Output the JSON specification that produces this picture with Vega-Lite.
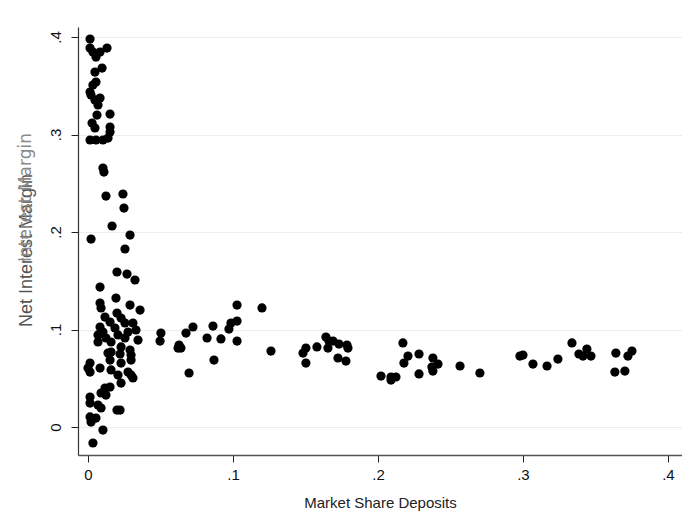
{
  "$schema": "https://vega.github.io/schema/vega-lite/v6.json",
  "autosize": "none",
  "width": 604,
  "height": 428,
  "padding": {"left": 78, "top": 27, "right": 0, "bottom": 60},
  "background": "white",
  "config": {"view": {"stroke": null}},
  "data": {"values": [
    {"share": 0.0014, "nim": 0.3979}, {"share": 0.0014, "nim": 0.3887}, {"share": 0.0034, "nim": 0.3846}, {"share": 0.0055, "nim": 0.3795},
    {"share": 0.0083, "nim": 0.3846}, {"share": 0.0131, "nim": 0.3887}, {"share": 0.0048, "nim": 0.3641}, {"share": 0.0097, "nim": 0.3682},
    {"share": 0.0055, "nim": 0.3538}, {"share": 0.0034, "nim": 0.3508}, {"share": 0.0014, "nim": 0.3436}, {"share": 0.0021, "nim": 0.3405},
    {"share": 0.0048, "nim": 0.3354}, {"share": 0.0083, "nim": 0.3374}, {"share": 0.0069, "nim": 0.3303}, {"share": 0.0062, "nim": 0.3200},
    {"share": 0.0152, "nim": 0.3210}, {"share": 0.0028, "nim": 0.3118}, {"share": 0.0048, "nim": 0.3067}, {"share": 0.0152, "nim": 0.3077},
    {"share": 0.0152, "nim": 0.3026}, {"share": 0.0014, "nim": 0.2944}, {"share": 0.0055, "nim": 0.2944}, {"share": 0.0103, "nim": 0.2944},
    {"share": 0.0138, "nim": 0.2964}, {"share": 0.0103, "nim": 0.2656}, {"share": 0.0110, "nim": 0.2615}, {"share": 0.0124, "nim": 0.2369},
    {"share": 0.0241, "nim": 0.2390}, {"share": 0.0248, "nim": 0.2246}, {"share": 0.0166, "nim": 0.2062}, {"share": 0.0290, "nim": 0.1969},
    {"share": 0.0021, "nim": 0.1928},
    {"share": 0.0255, "nim": 0.1826}, {"share": 0.0200, "nim": 0.1590}, {"share": 0.0269, "nim": 0.1569}, {"share": 0.0324, "nim": 0.1508},
    {"share": 0.0083, "nim": 0.1436}, {"share": 0.0193, "nim": 0.1323}, {"share": 0.0083, "nim": 0.1272}, {"share": 0.0090, "nim": 0.1221},
    {"share": 0.0290, "nim": 0.1251}, {"share": 0.0359, "nim": 0.1200}, {"share": 0.0200, "nim": 0.1169}, {"share": 0.0117, "nim": 0.1128},
    {"share": 0.0228, "nim": 0.1118}, {"share": 0.0152, "nim": 0.1077}, {"share": 0.0255, "nim": 0.1067}, {"share": 0.0310, "nim": 0.1067},
    {"share": 0.0083, "nim": 0.1026}, {"share": 0.0186, "nim": 0.1015}, {"share": 0.0103, "nim": 0.0974}, {"share": 0.0276, "nim": 0.0974},
    {"share": 0.0331, "nim": 0.0995}, {"share": 0.0069, "nim": 0.0944}, {"share": 0.0207, "nim": 0.0944}, {"share": 0.0124, "nim": 0.0913},
    {"share": 0.0255, "nim": 0.0913}, {"share": 0.0345, "nim": 0.0892}, {"share": 0.0069, "nim": 0.0872}, {"share": 0.0159, "nim": 0.0872},
    {"share": 0.0228, "nim": 0.0821}, {"share": 0.0290, "nim": 0.0790}, {"share": 0.0159, "nim": 0.0769}, {"share": 0.0138, "nim": 0.0759},
    {"share": 0.0221, "nim": 0.0749}, {"share": 0.0297, "nim": 0.0738}, {"share": 0.0152, "nim": 0.0687}, {"share": 0.0297, "nim": 0.0687},
    {"share": 0.0228, "nim": 0.0656}, {"share": 0.0014, "nim": 0.0656}, {"share": 0.0000, "nim": 0.0605}, {"share": 0.0083, "nim": 0.0605},
    {"share": 0.0159, "nim": 0.0585}, {"share": 0.0276, "nim": 0.0564}, {"share": 0.0207, "nim": 0.0533}, {"share": 0.0297, "nim": 0.0533},
    {"share": 0.0014, "nim": 0.0564}, {"share": 0.0310, "nim": 0.0503}, {"share": 0.0228, "nim": 0.0451}, {"share": 0.0117, "nim": 0.0400},
    {"share": 0.0152, "nim": 0.0410}, {"share": 0.0090, "nim": 0.0349}, {"share": 0.0124, "nim": 0.0328}, {"share": 0.0014, "nim": 0.0308},
    {"share": 0.0014, "nim": 0.0246}, {"share": 0.0069, "nim": 0.0226}, {"share": 0.0090, "nim": 0.0195}, {"share": 0.0221, "nim": 0.0174},
    {"share": 0.0200, "nim": 0.0174}, {"share": 0.0014, "nim": 0.0103}, {"share": 0.0055, "nim": 0.0092}, {"share": 0.0021, "nim": 0.0051},
    {"share": 0.0103, "nim": -0.0031}, {"share": 0.0034, "nim": -0.0164},
    {"share": 0.0503, "nim": 0.0964}, {"share": 0.0497, "nim": 0.0882}, {"share": 0.0676, "nim": 0.0964}, {"share": 0.0724, "nim": 0.1026},
    {"share": 0.0628, "nim": 0.0841}, {"share": 0.0621, "nim": 0.0810}, {"share": 0.0641, "nim": 0.0810}, {"share": 0.0697, "nim": 0.0554},
    {"share": 0.0821, "nim": 0.0913}, {"share": 0.0862, "nim": 0.1036}, {"share": 0.0917, "nim": 0.0903}, {"share": 0.0869, "nim": 0.0687},
    {"share": 0.0972, "nim": 0.1005}, {"share": 0.0986, "nim": 0.1067}, {"share": 0.1028, "nim": 0.1087}, {"share": 0.1028, "nim": 0.1251},
    {"share": 0.1028, "nim": 0.0882}, {"share": 0.1200, "nim": 0.1221}, {"share": 0.1262, "nim": 0.0779}, {"share": 0.1483, "nim": 0.0759},
    {"share": 0.1503, "nim": 0.0810}, {"share": 0.1503, "nim": 0.0656}, {"share": 0.1579, "nim": 0.0821}, {"share": 0.1641, "nim": 0.0923},
    {"share": 0.1662, "nim": 0.0882}, {"share": 0.1655, "nim": 0.0810}, {"share": 0.1690, "nim": 0.0882}, {"share": 0.1731, "nim": 0.0851},
    {"share": 0.1786, "nim": 0.0841}, {"share": 0.1793, "nim": 0.0810}, {"share": 0.1724, "nim": 0.0708}, {"share": 0.1779, "nim": 0.0677},
    {"share": 0.2021, "nim": 0.0523}, {"share": 0.2090, "nim": 0.0513}, {"share": 0.2124, "nim": 0.0513}, {"share": 0.2090, "nim": 0.0482},
    {"share": 0.2172, "nim": 0.0862}, {"share": 0.2207, "nim": 0.0728}, {"share": 0.2179, "nim": 0.0656}, {"share": 0.2283, "nim": 0.0749},
    {"share": 0.2283, "nim": 0.0544}, {"share": 0.2379, "nim": 0.0708}, {"share": 0.2372, "nim": 0.0615}, {"share": 0.2414, "nim": 0.0646},
    {"share": 0.2379, "nim": 0.0574}, {"share": 0.2566, "nim": 0.0626}, {"share": 0.2703, "nim": 0.0554}, {"share": 0.2979, "nim": 0.0728},
    {"share": 0.3000, "nim": 0.0738}, {"share": 0.3069, "nim": 0.0646}, {"share": 0.3166, "nim": 0.0626}, {"share": 0.3241, "nim": 0.0697},
    {"share": 0.3338, "nim": 0.0862}, {"share": 0.3386, "nim": 0.0749}, {"share": 0.3414, "nim": 0.0728}, {"share": 0.3441, "nim": 0.0800},
    {"share": 0.3469, "nim": 0.0728}, {"share": 0.3641, "nim": 0.0759}, {"share": 0.3634, "nim": 0.0564}, {"share": 0.3703, "nim": 0.0574},
    {"share": 0.3724, "nim": 0.0728}, {"share": 0.3752, "nim": 0.0779}
  ]},
  "encoding": {
    "x": {
      "field": "share", "type": "quantitative",
      "scale": {"domain": [-0.0069, 0.4097], "nice": false, "zero": false},
      "axis": {
        "title": "Market Share Deposits",
        "values": [0, 0.1, 0.2, 0.3, 0.4],
        "labelExpr": "datum.value == 0 ? '0' : replace(format(datum.value, '.1f'), '0.', '.')",
        "grid": false,
        "domainColor": "#555", "domainWidth": 1.5,
        "tickColor": "#222", "tickSize": 7, "tickWidth": 1,
        "labelFont": "Liberation Sans", "labelFontSize": 15, "labelColor": "#111", "labelPadding": 5,
        "titleFont": "Liberation Sans", "titleFontSize": 15, "titleFontWeight": "normal", "titleColor": "#222", "titlePadding": 13
      }
    }
  },
  "layer": [
    {
      "mark": {"type": "point", "filled": true, "shape": "circle", "size": 85, "color": "black", "opacity": 1},
      "encoding": {
        "y": {
          "field": "nim", "type": "quantitative",
          "scale": {"domain": [-0.0287, 0.4103], "nice": false, "zero": false},
          "axis": {
            "title": "Net Interest Margin",
            "values": [0, 0.1, 0.2, 0.3, 0.4],
            "labelExpr": "datum.value == 0 ? '0' : replace(format(datum.value, '.1f'), '0.', '.')",
            "labelAngle": -90, "labelAlign": "center", "labelBaseline": "bottom",
            "grid": true, "gridColor": "#e6eef0", "gridWidth": 1,
            "domainColor": "#333", "domainWidth": 1.2,
            "tickColor": "#222", "tickSize": 7, "tickWidth": 1,
            "labelFont": "Liberation Sans", "labelFontSize": 15, "labelColor": "#111", "labelPadding": 8,
            "titleFont": "Liberation Sans", "titleFontSize": 18, "titleFontWeight": "normal", "titleColor": "#555",
            "titleX": -52, "titleY": 223, "titleAngle": -90, "titleAlign": "center", "titleBaseline": "middle"
          }
        }
      }
    },
    {
      "mark": {"type": "point", "filled": true, "shape": "circle", "size": 85, "opacity": 0},
      "encoding": {
        "y": {
          "field": "nim", "type": "quantitative",
          "scale": {"domain": [-0.0287, 0.4103], "nice": false, "zero": false},
          "axis": {
            "orient": "left",
            "title": "Interest Margin",
            "labels": false, "ticks": false, "domain": false, "grid": false,
            "titleFont": "DejaVu Sans", "titleFontSize": 17, "titleFontWeight": "normal", "titleColor": "#8a8a8a",
            "titleX": -53, "titleY": 170, "titleAngle": -90, "titleAlign": "center", "titleBaseline": "middle"
          }
        }
      }
    }
  ],
  "resolve": {"scale": {"y": "independent"}, "axis": {"y": "independent"}}
}
